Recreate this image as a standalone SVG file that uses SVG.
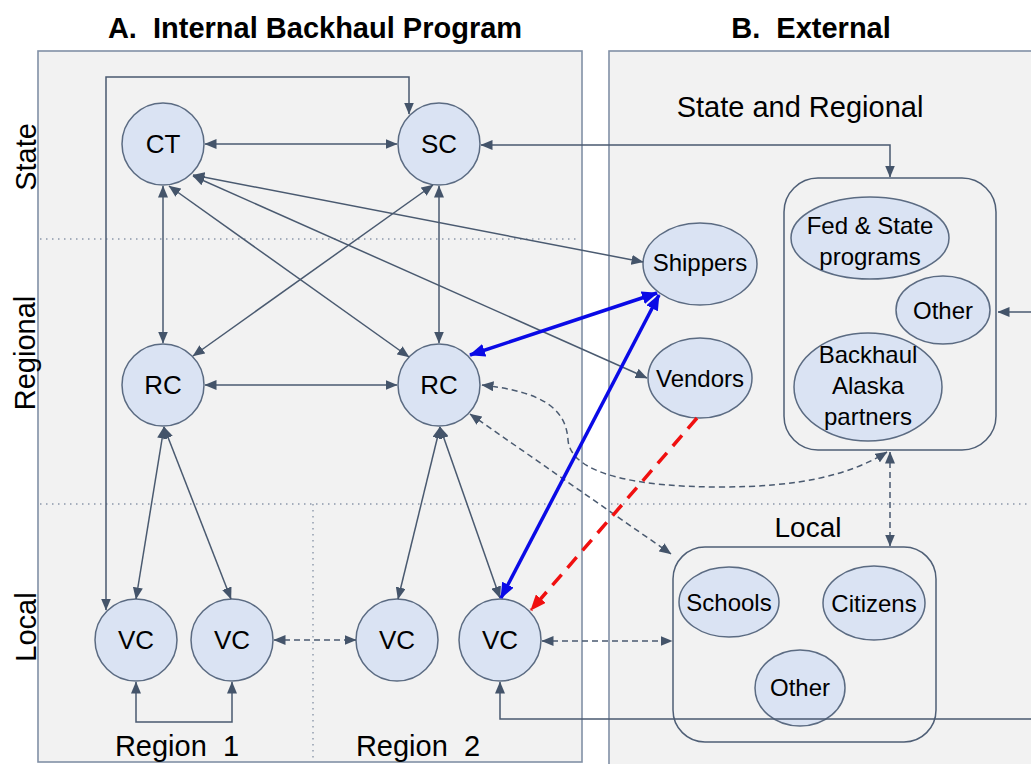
<svg xmlns="http://www.w3.org/2000/svg" width="1031" height="764" viewBox="0 0 1031 764">
<defs>
<style>
.panel{fill:#f2f2f2;stroke:#8190a6;stroke-width:1.6}
.dot{stroke:#8c98aa;stroke-width:1.4;stroke-dasharray:1.5 4.5;fill:none}
.c{fill:#dae3f3;stroke:#5b6b82;stroke-width:1.5}
.box{fill:none;stroke:#4f5f76;stroke-width:1.5}
.t{font-family:"Liberation Sans",Arial,sans-serif;fill:#000;text-anchor:middle}
.n{font-size:26px}
.e{font-size:24px}
.h{font-size:29px;font-weight:bold}
.lab{font-size:29px}
.g{fill:none;stroke:#4a5a70;stroke-width:1.5}
.gd{stroke-dasharray:6 4}
.blue{fill:none;stroke:#0a0ae6;stroke-width:3.5}
.red{fill:none;stroke:#f01010;stroke-width:3.5;stroke-dasharray:14 9}
</style>
<marker id="ag" markerUnits="userSpaceOnUse" viewBox="0 0 12 10" markerWidth="12" markerHeight="10" refX="11.5" refY="5" orient="auto-start-reverse"><path d="M0,0 L12,5 L0,10 z" fill="#44546a"/></marker>
<marker id="ab" markerUnits="userSpaceOnUse" viewBox="0 0 16 13" markerWidth="16" markerHeight="13" refX="15" refY="6.5" orient="auto-start-reverse"><path d="M0,0 L16,6.5 L0,13 z" fill="#0a0ae6"/></marker>
<marker id="ar" markerUnits="userSpaceOnUse" viewBox="0 0 16 13" markerWidth="16" markerHeight="13" refX="15" refY="6.5" orient="auto-start-reverse"><path d="M0,0 L16,6.5 L0,13 z" fill="#f01010"/></marker>
</defs>
<rect width="1031" height="764" fill="#ffffff"/>
<g id="panels">
<rect class="panel" x="38" y="51" width="544" height="711"/>
<rect class="panel" x="609" y="51" width="440" height="730"/>
<line class="dot" x1="40" y1="239" x2="580" y2="239"/>
<line class="dot" x1="40" y1="504" x2="580" y2="504"/>
<line class="dot" x1="611" y1="504" x2="1031" y2="504"/>
<line class="dot" x1="313" y1="504" x2="313" y2="760"/>
</g>
<g id="labels">
<text class="t h" x="315" y="38">A.&#160; Internal Backhaul Program</text>
<text class="t h" x="811" y="38">B.&#160; External</text>
<text class="t lab" transform="translate(36,157) rotate(-90)">State</text>
<text class="t lab" transform="translate(35,353) rotate(-90)">Regional</text>
<text class="t lab" transform="translate(36,627) rotate(-90)">Local</text>
<text class="t lab" x="177" y="756">Region&#160; 1</text>
<text class="t lab" x="418" y="756">Region&#160; 2</text>
<text class="t lab" x="800" y="117">State and Regional</text>
<text class="t" style="font-size:28px" x="808" y="537">Local</text>
</g>
<g id="node-ct"><circle class="c" cx="163" cy="144" r="41"/><text class="t n" x="163" y="153">CT</text></g>
<g id="node-sc"><circle class="c" cx="439" cy="144" r="41"/><text class="t n" x="439" y="153">SC</text></g>
<g id="node-rc1"><circle class="c" cx="163" cy="385" r="41"/><text class="t n" x="163" y="394">RC</text></g>
<g id="node-rc2"><circle class="c" cx="439" cy="385" r="41"/><text class="t n" x="439" y="394">RC</text></g>
<g id="node-vc1"><circle class="c" cx="136" cy="640" r="41"/><text class="t n" x="136" y="649">VC</text></g>
<g id="node-vc2"><circle class="c" cx="232" cy="640" r="41"/><text class="t n" x="232" y="649">VC</text></g>
<g id="node-vc3"><circle class="c" cx="397" cy="640" r="41"/><text class="t n" x="397" y="649">VC</text></g>
<g id="node-vc4"><circle class="c" cx="500" cy="640" r="41"/><text class="t n" x="500" y="649">VC</text></g>
<g id="node-shippers"><ellipse class="c" cx="700" cy="264" rx="57" ry="41"/><text class="t e" x="700" y="271">Shippers</text></g>
<g id="node-vendors"><ellipse class="c" cx="700" cy="378" rx="52" ry="40"/><text class="t e" x="700" y="387">Vendors</text></g>
<g id="node-state-regional-box"><rect class="box" x="784" y="178" width="212" height="272" rx="34"/></g>
<g id="node-fed"><ellipse class="c" cx="870" cy="238" rx="79" ry="41"/><text class="t e" x="870" y="234">Fed &amp; State</text><text class="t e" x="870" y="265">programs</text></g>
<g id="node-other1"><ellipse class="c" cx="943" cy="310" rx="47" ry="34"/><text class="t e" x="943" y="319">Other</text></g>
<g id="node-partners"><ellipse class="c" cx="868" cy="387" rx="74" ry="54"/><text class="t e" x="868" y="363">Backhaul</text><text class="t e" x="868" y="394">Alaska</text><text class="t e" x="868" y="425">partners</text></g>
<g id="node-local-box"><rect class="box" x="673" y="547" width="263" height="195" rx="32"/></g>
<g id="node-schools"><ellipse class="c" cx="729" cy="602" rx="50" ry="35"/><text class="t e" x="729" y="611">Schools</text></g>
<g id="node-citizens"><ellipse class="c" cx="874" cy="603" rx="51" ry="37"/><text class="t e" x="874" y="612">Citizens</text></g>
<g id="node-other2"><ellipse class="c" cx="800" cy="688" rx="45" ry="38"/><text class="t e" x="800" y="696">Other</text></g>
<g id="connectors">
<path class="g" d="M409 114 L409 77 L106 77 L106 610" marker-start="url(#ag)" marker-end="url(#ag)"/>
<path class="g" d="M205 144 L397 144" marker-start="url(#ag)" marker-end="url(#ag)"/>
<path class="g" d="M481 145 L890 145 L890 177" marker-start="url(#ag)" marker-end="url(#ag)"/>
<path class="g" d="M163 186 L163 343" marker-start="url(#ag)" marker-end="url(#ag)"/>
<path class="g" d="M439 186 L439 343" marker-start="url(#ag)" marker-end="url(#ag)"/>
<path class="g" d="M205 385 L397 385" marker-start="url(#ag)" marker-end="url(#ag)"/>
<path class="g" d="M169 186 L409 357" marker-start="url(#ag)" marker-end="url(#ag)"/>
<path class="g" d="M433 185 L193 356" marker-start="url(#ag)" marker-end="url(#ag)"/>
<path class="g" d="M193 175 L643 262" marker-start="url(#ag)" marker-end="url(#ag)"/>
<path class="g" d="M193 176 L647 378" marker-start="url(#ag)" marker-end="url(#ag)"/>
<path class="g" d="M164 427 L136 599" marker-start="url(#ag)" marker-end="url(#ag)"/>
<path class="g" d="M164 427 L231 599" marker-start="url(#ag)" marker-end="url(#ag)"/>
<path class="g" d="M440 427 L398 599" marker-start="url(#ag)" marker-end="url(#ag)"/>
<path class="g" d="M440 427 L500 598" marker-start="url(#ag)" marker-end="url(#ag)"/>
<path class="g" d="M136 682 L136 722 L232 722 L232 682" marker-start="url(#ag)" marker-end="url(#ag)"/>
<path class="g" d="M500 682 L500 719 L1031 719" marker-start="url(#ag)"/>
<path class="g" d="M1031 312 L998 312" marker-end="url(#ag)"/>
<path class="g gd" d="M274 640 L356 640" marker-start="url(#ag)" marker-end="url(#ag)"/>
<path class="g gd" d="M542 641 L672 641" marker-start="url(#ag)" marker-end="url(#ag)"/>
<path class="g gd" d="M470 414 L671 554" marker-start="url(#ag)" marker-end="url(#ag)"/>
<path class="g gd" d="M482 385 C545 392 566 410 568 440 C571 475 640 487 720 487 C800 487 850 475 887 452" marker-start="url(#ag)" marker-end="url(#ag)"/>
<path class="g gd" d="M890 452 L890 546" marker-start="url(#ag)" marker-end="url(#ag)"/>
<path class="blue" d="M470 355 L657 293" marker-start="url(#ab)" marker-end="url(#ab)"/>
<path class="blue" d="M501 598 L659 295" marker-start="url(#ab)" marker-end="url(#ab)"/>
<path class="red" d="M697 418 L531 610" marker-end="url(#ar)"/>
</g>
</svg>
